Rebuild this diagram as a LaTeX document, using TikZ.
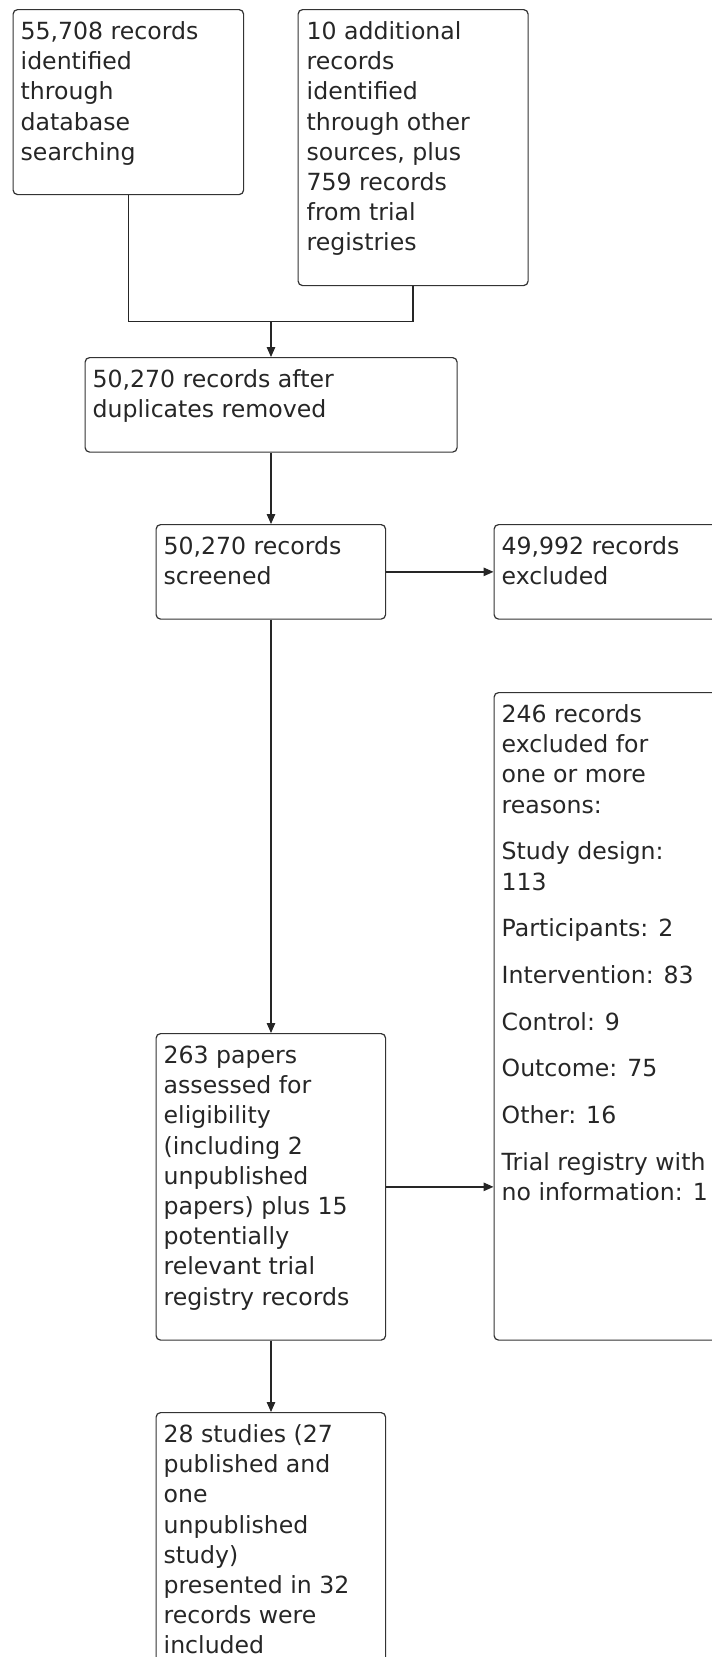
\documentclass[tikz,border=0pt]{standalone}
\usepackage{fontspec}
\setmainfont{DejaVu Sans}
\usetikzlibrary{arrows.meta,calc}
\newcommand{\fst}{\rule{0pt}{18pt}}
\tikzset{
  box/.style={draw=black!80, line width=1.2pt, rounded corners=4.5pt, anchor=north west, inner sep=0pt},
  txt/.style={anchor=north west, inner sep=0pt, align=left, text=black!85,
    font={\fontsize{23.6}{30.2}\selectfont}},
  link/.style={draw=black!85, line width=1.3pt},
  arr/.style={link, -{Triangle[length=10pt,width=8.5pt]}}
}
\begin{document}
\begin{tikzpicture}[x=1pt,y=-1pt]
\useasboundingbox (0,0) rectangle (712,1657);
\clip (0,0) rectangle (712,1657);
% boxes
\node[box, minimum width=230.5pt, minimum height=185pt] (b1) at (12.5,9) {};
\node[box, minimum width=230pt, minimum height=276pt] (b2) at (297.5,9) {};
\node[box, minimum width=372pt, minimum height=94.5pt] (b3) at (84.5,357) {};
\node[box, minimum width=229.5pt, minimum height=94.5pt] (b4) at (155.5,524) {};
\node[box, minimum width=300pt, minimum height=94.5pt] (b5) at (493.5,524) {};
\node[box, minimum width=300pt, minimum height=647.5pt] (b6) at (493.5,692) {};
\node[box, minimum width=229.5pt, minimum height=306.5pt] (b7) at (155.5,1033) {};
\node[box, minimum width=229.5pt, minimum height=320pt] (b8) at (155.5,1412) {};
% texts
\node[txt] (t1) at ($(b1.north west)+(8,12.3)$) {\fst 55,708 records\\identified\\through\\database\\searching};
\node[txt] (t2) at ($(b2.north west)+(9,12.3)$) {\fst 10 additional\\records\\identified\\through other\\sources, plus\\759 records\\from trial\\registries};
\node[txt] (t3) at ($(b3.north west)+(8,12.3)$) {\fst 50,270 records after\\duplicates removed};
\node[txt] (t4) at ($(b4.north west)+(8,12.3)$) {\fst 50,270 records\\screened};
\node[txt] (t5) at ($(b5.north west)+(8,12.3)$) {\fst 49,992 records\\excluded};
\node[txt] (t6) at ($(b6.north west)+(8,12.3)$) {\fst 246 records\\excluded for\\one or more\\reasons:\\[16.5pt]Study design:\\113\\[16.5pt]Participants: 2\\[16.5pt]Intervention: 83\\[16.5pt]Control: 9\\[16.5pt]Outcome: 75\\[16.5pt]Other: 16\\[16.5pt]Trial registry with\\no information: 1};
\node[txt] (t7) at ($(b7.north west)+(8,12.3)$) {\fst 263 papers\\assessed for\\eligibility\\(including 2\\unpublished\\papers) plus 15\\potentially\\relevant trial\\registry records};
\node[txt] (t8) at ($(b8.north west)+(8,12.3)$) {\fst 28 studies (27\\published and\\one\\unpublished\\study)\\presented in 32\\records were\\included};
% connectors
\coordinate (j) at (271,321.5);
\draw[link] (b1.south) |- (j);
\draw[link] (b2.south) |- (j);
\draw[arr] (j) -- (b3.north -| j);
\draw[arr] (b3.south -| j) -- (b4.north -| j);
\draw[arr] (b4.east) -- (b4.east -| b5.west);
\draw[arr] (b4.south -| j) -- (b7.north -| j);
\draw[arr] (b7.east) -- (b7.east -| b6.west);
\draw[arr] (b7.south -| j) -- (b8.north -| j);
\end{tikzpicture}
\end{document}
